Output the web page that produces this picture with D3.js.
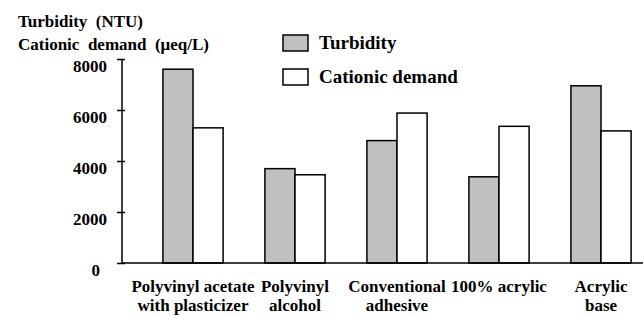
<!DOCTYPE html>
<html>
<head>
<meta charset="utf-8">
<script src="https://cdn.jsdelivr.net/npm/d3@7"></script>
<style>
  body { margin: 0; background: #fff; }
</style>
</head>
<body>
<div id="chart"></div>
<script>
// categories and values
const categories = [
    ['Polyvinyl acetate', 'with plasticizer'],
    ['Polyvinyl', 'alcohol'],
    ['Conventional', 'adhesive'],
    ['100% acrylic'],
    ['Acrylic', 'base']
];
const turbidity = [7600, 3700, 4800, 3380, 6950];
const cationicDemand = [5300, 3460, 5880, 5360, 5180];
const yTicks = [0, 2000, 4000, 6000, 8000];
const seriesNames = ['Turbidity', 'Cationic demand'];
const seriesColors = ['#c0c0c0', '#ffffff'];

const FONT = "'Liberation Serif', 'Times New Roman', Times, 'DejaVu Serif', serif";
const width = 644, height = 316;

const svg = d3.select('#chart').append('svg')
    .attr('width', width)
    .attr('height', height);

// scales
const yScale = d3.scaleLinear()
    .domain([0, 8000])
    .range([263, 59]);

const xScale = d3.scaleBand()
    .domain(d3.range(categories.length))
    .range([142, 652])
    .paddingInner(0.41)
    .paddingOuter(0.205);

const xSub = d3.scaleBand()
    .domain([0, 1])
    .range([0, xScale.bandwidth()]);

// y axis
const yAxis = d3.axisLeft(yScale)
    .tickValues(yTicks)
    .tickSize(5)
    .tickPadding(14)
    .tickFormat(d3.format('d'));

const yAxisG = svg.append('g')
    .attr('transform', 'translate(122,0)')
    .call(yAxis)
    .attr('font-family', FONT)
    .attr('font-weight', 'bold')
    .attr('font-size', 17);

yAxisG.select('.domain').remove();
yAxisG.append('line')
    .attr('x1', 0).attr('x2', 0)
    .attr('y1', yScale(8000)).attr('y2', yScale(0))
    .attr('stroke', '#000').attr('stroke-width', 1.5);
yAxisG.selectAll('.tick line')
    .attr('x1', 3)
    .attr('stroke-width', 1.5);
yAxisG.selectAll('.tick text')
    .attr('dy', '0.75em')
    .attr('x', d => d === 0 ? -22 : -15);

// bars
const groups = svg.append('g').selectAll('g')
    .data(categories.map((c, i) => [turbidity[i], cationicDemand[i]]))
    .join('g')
    .attr('transform', (d, i) => `translate(${xScale(i)},0)`);

groups.selectAll('rect')
    .data(d => d)
    .join('rect')
    .attr('x', (d, j) => xSub(j))
    .attr('y', d => yScale(d))
    .attr('width', xSub.bandwidth())
    .attr('height', d => yScale(0) - yScale(d))
    .attr('fill', (d, j) => seriesColors[j])
    .attr('stroke', '#000')
    .attr('stroke-width', 1.5);

// baseline
svg.append('line')
    .attr('x1', 122).attr('x2', 643)
    .attr('y1', yScale(0)).attr('y2', yScale(0))
    .attr('stroke', '#000').attr('stroke-width', 1.5);

// all remaining text in one group so the font is set once
const txt = svg.append('g')
    .attr('font-family', FONT)
    .attr('font-weight', 'bold');

// category labels
const catLabels = txt.append('g').selectAll('text')
    .data(categories)
    .join('text')
    .attr('text-anchor', 'middle')
    .attr('font-size', 17)
    .attr('x', (d, i) => xScale(i) + xScale.bandwidth() / 2)
    .attr('y', 292);

catLabels.selectAll('tspan')
    .data(d => d)
    .join('tspan')
    .attr('x', function() { return d3.select(this.parentNode).attr('x'); })
    .attr('dy', (d, i) => i === 0 ? 0 : 19)
    .text(d => d);

// y axis title
txt.append('text')
    .attr('x', 18).attr('y', 27)
    .attr('font-size', 17)
    .attr('xml:space', 'preserve')
    .text('Turbidity  (NTU)');
txt.append('text')
    .attr('x', 18).attr('y', 50)
    .attr('font-size', 17)
    .attr('xml:space', 'preserve')
    .text('Cationic  demand  (μeq/L)');

// legend
const legend = txt.append('g').selectAll('g')
    .data(seriesNames)
    .join('g')
    .attr('transform', (d, i) => `translate(283,${35 + i * 34})`);

legend.append('rect')
    .attr('width', 25).attr('height', 16)
    .attr('fill', (d, i) => seriesColors[i])
    .attr('stroke', '#000')
    .attr('stroke-width', 1.5);

legend.append('text')
    .attr('x', 36).attr('y', 14)
    .attr('font-size', 19)
    .text(d => d);
</script>
</body>
</html>
